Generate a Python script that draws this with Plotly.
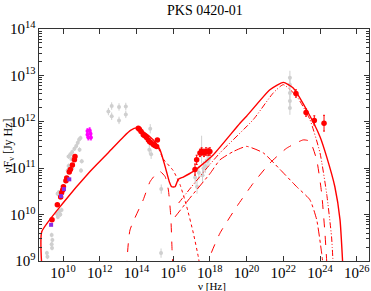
import plotly.graph_objects as go

# ---- model curves: log10(nu [Hz]) and log10(nuFnu [Jy Hz])
tot_lnu = [8.84, 8.84, 10.0, 11.47, 12.5, 13.3, 13.7, 14.0, 14.37, 14.92, 15.28, 15.56, 15.79, 15.92,
           16.10, 16.28, 16.55, 17.10, 17.46, 18.19, 19.64, 20.0, 21.27, 22.0, 22.54, 23.27, 24.0,
           24.36, 24.81, 25.09, 25.23]
tot_lf = [8.9, 9.63, 10.25, 10.93, 11.35, 11.68, 11.82, 11.87, 11.79, 11.61, 11.40, 11.04, 10.71, 10.60,
          10.60, 10.76, 10.81, 10.93, 11.04, 11.29, 11.97, 12.12, 12.69, 12.85, 12.73, 12.26, 11.68,
          11.25, 10.60, 9.89, 9.0]

disk_lnu = [13.45, 13.65, 14.37, 14.74, 15.10, 15.28, 15.56, 15.74, 15.87, 15.94, 15.99]
disk_lf = [8.8, 9.67, 10.32, 10.71, 10.89, 10.93, 10.82, 10.53, 9.96, 9.24, 8.8]

syn_lnu = [15.2, 15.46, 16.0, 16.37, 16.74, 17.10, 17.37, 17.45]
syn_lf = [11.43, 11.20, 10.95, 10.65, 10.17, 9.60, 9.09, 8.9]

ssc_lnu = [16.1, 17.0, 18.0, 18.55, 19.28, 20.0, 20.91, 21.83, 22.73, 23.45, 23.82, 24.09, 24.2]
ssc_lf = [9.95, 10.40, 10.88, 11.18, 11.36, 11.47, 11.33, 10.97, 10.60, 10.32, 9.89, 9.17, 8.8]

ecd_lnu = [17.9, 18.0, 18.55, 19.46, 20.37, 21.27, 22.18, 23.09, 23.45, 23.82, 24.09, 24.27, 24.38]
ecd_lf = [8.8, 9.09, 9.6, 10.17, 10.68, 11.11, 11.43, 11.61, 11.58, 11.18, 10.46, 9.6, 8.9]

ecb_lnu = [16.3, 17.0, 18.0, 18.55, 20.37, 21.45, 22.0, 22.73, 23.45, 24.0, 24.36, 24.63, 24.72]
ecb_lf = [10.25, 10.60, 11.08, 11.33, 12.05, 12.62, 12.80, 12.55, 12.05, 11.33, 10.46, 9.52, 8.9]

# ---- data points
red_lnu = [9.40, 9.69, 9.87, 9.92, 9.98, 10.02, 10.16, 10.20, 10.34, 10.40, 10.51, 10.62, 10.65,
           14.10, 14.16, 14.25, 14.37, 14.45, 14.55, 14.65, 14.72, 14.80, 14.92, 15.0, 15.10, 15.14,
           17.19, 17.28, 17.46, 17.55, 17.68, 17.79, 17.91, 18.0,
           22.69, 23.24, 23.69, 24.22]
red_lf = [9.89, 10.21, 10.38, 10.47, 10.53, 10.60, 10.73, 10.79, 10.92, 10.97, 11.07, 11.18, 11.25,
          11.86, 11.84, 11.79, 11.72, 11.70, 11.66, 11.61, 11.57, 11.55, 11.51, 11.49, 11.47, 11.61,
          10.97, 11.18, 11.33, 11.36, 11.33, 11.36, 11.35, 11.36,
          12.61, 12.20, 12.03, 11.97]
red_err = [0.02] * 13 + [0.03] * 13 + [0.12, 0.1, 0.08, 0.08, 0.08, 0.08, 0.08, 0.08] + [0.08, 0.08, 0.1, 0.17]

pur_lnu = [9.35, 9.89, 10.05, 10.34]
pur_lf = [9.78, 10.40, 10.55, 10.76]

mag_lnu = [11.33, 11.45, 11.33, 11.50, 11.38, 11.52]
mag_lf = [11.80, 11.82, 11.72, 11.74, 11.66, 11.66]

gray_lnu = [9.12, 9.15, 9.38, 9.42, 9.38, 9.40, 9.66, 9.72, 9.80, 9.85, 9.92, 9.70, 9.76, 9.88, 10.05,
            10.12, 10.25, 10.30, 10.30, 10.40, 10.50, 10.62, 10.72, 10.80, 10.88, 10.95, 10.90, 10.98,
            11.02, 10.50, 10.45,
            12.47, 12.65, 12.65, 13.05, 13.05, 13.42, 13.42,
            14.70, 14.75, 14.80, 15.35, 15.34,
            17.20, 17.30, 17.40, 17.55, 17.65, 17.75, 17.85, 17.95, 17.60,
            22.36, 22.36, 22.36, 22.36, 22.36]
gray_lf = [9.17, 9.09, 9.56, 9.45, 9.36, 9.28, 10.02, 9.95, 10.07, 10.00, 10.10, 10.45, 10.48, 10.47, 10.60,
           10.72, 10.95, 11.05, 11.25, 11.30, 11.35, 11.42, 11.48, 11.55, 11.62, 11.65, 11.40, 10.95,
           11.15, 11.00, 11.20,
           12.22, 12.34, 12.12, 12.32, 12.03, 12.33, 12.16,
           11.40, 11.85, 11.30, 10.55, 9.17,
           10.80, 10.60, 10.90, 11.40, 11.00, 11.05, 11.15, 11.20, 10.85,
           12.95, 12.80, 12.62, 12.45, 12.30]
gray_err = [0.05] * 31 + [0.08] * 7 + [0.1, 0.1, 0.1, 0.1, 0.1] + [0.15, 0.15, 0.15, 0.3, 0.15, 0.15, 0.15, 0.15, 0.15] + [0.15] * 5


def lin(v):
    return [10 ** a for a in v]


def errs(lf, e):
    up = [10 ** (a + b) - 10 ** a for a, b in zip(lf, e)]
    dn = [10 ** a - 10 ** (a - b) for a, b in zip(lf, e)]
    return up, dn


RED = "#ff0000"
fig = go.Figure()

gu, gd = errs(gray_lf, gray_err)
fig.add_trace(go.Scatter(x=lin(gray_lnu), y=lin(gray_lf), mode="markers",
                         marker=dict(color="#cfcfcf", size=4),
                         error_y=dict(type="data", array=gu, arrayminus=gd, color="#cfcfcf", thickness=1, width=0),
                         showlegend=False))

curves = [
    (tot_lnu, tot_lf, "solid", 1.4),
    (disk_lnu, disk_lf, "dash", 1.0),
    (syn_lnu, syn_lf, "dot", 1.0),
    (ssc_lnu, ssc_lf, "dashdot", 1.0),
    (ecd_lnu, ecd_lf, "dash", 1.0),
    (ecb_lnu, ecb_lf, "6px,2px,1px,2px,1px,2px", 1.0),
]
for xs, ys, dash, w in curves:
    fig.add_trace(go.Scatter(x=lin(xs), y=lin(ys), mode="lines",
                             line=dict(color=RED, width=w, dash=dash, shape="spline", smoothing=0.5),
                             showlegend=False))

mu, md = errs(mag_lf, [0.05] * len(mag_lf))
fig.add_trace(go.Scatter(x=lin(mag_lnu), y=lin(mag_lf), mode="markers",
                         marker=dict(color="#ff00ff", size=4),
                         error_y=dict(type="data", array=mu, arrayminus=md, color="#ff00ff", thickness=1, width=1),
                         showlegend=False))

ru, rd = errs(red_lf, red_err)
fig.add_trace(go.Scatter(x=lin(red_lnu), y=lin(red_lf), mode="markers",
                         marker=dict(color=RED, size=5.5),
                         error_y=dict(type="data", array=ru, arrayminus=rd, color=RED, thickness=1, width=1),
                         showlegend=False))

fig.add_trace(go.Scatter(x=lin(pur_lnu), y=lin(pur_lf), mode="markers",
                         marker=dict(color="#8a2be2", size=4, symbol="square"),
                         showlegend=False))

font = "Liberation Serif"
axis_common = dict(type="log", showgrid=False, zeroline=False, showline=True, linecolor="#333333",
                   linewidth=1, mirror="allticks", ticks="inside", ticklen=5, tickcolor="#333333",
                   exponentformat="power", tickfont=dict(family=font, size=12, color="black"))

fig.update_layout(
    width=371, height=291,
    margin=dict(l=39, r=2, t=29, b=30),
    paper_bgcolor="white", plot_bgcolor="white",
    font=dict(family=font, color="black"),
    xaxis=dict(range=[8.69, 26.67], dtick=2, tick0=0, automargin=False, ticklabelstandoff=-1, **axis_common),
    yaxis=dict(range=[9, 14], dtick=1, automargin=False,
               minor=dict(ticks="inside", ticklen=3, tickcolor="#333333"),
               **axis_common),
    annotations=[
        dict(text="PKS 0420-01", xref="paper", yref="paper", x=0.503, y=1.078, xanchor="center",
             yanchor="middle", showarrow=False, font=dict(family=font, size=14, color="black")),
        dict(text="ν [Hz]", xref="paper", yref="paper", x=0.524, y=-0.108, xanchor="center", yanchor="middle",
             showarrow=False, font=dict(family=font, size=11, color="black")),
        dict(text="νF<sub>ν</sub> [Jy Hz]", xref="paper", yref="paper", x=-0.091, y=0.5, xanchor="center",
             yanchor="middle", textangle=-90, showarrow=False, font=dict(family=font, size=12, color="black")),
    ],
)

fig.write_html("out.html", config={"displayModeBar": False},
               post_script="document.body.style.margin='0';document.body.style.padding='0';")
